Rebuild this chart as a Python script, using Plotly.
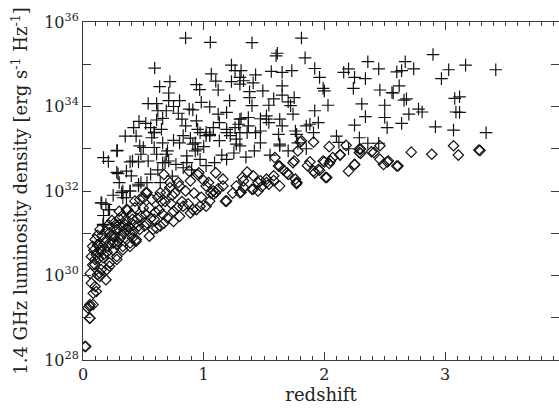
import plotly.graph_objects as go

# ---- data: redshift and log10 of 1.4 GHz luminosity density (erg s^-1 Hz^-1) ----
plus_z = [0.85, 1.055, 1.40, 1.81, 1.61, 1.60, 1.84, 2.90, 2.36, 2.67, 3.17, 3.42, 3.03, 2.97, 2.74, 2.64, 2.60,
          2.62, 2.57, 2.66, 2.68, 3.08, 3.12, 3.09, 3.12, 2.70, 2.78, 2.81, 2.64, 2.92, 3.07, 3.34,
          2.16, 2.20, 2.25, 2.34, 2.45, 2.24, 2.46, 2.56, 2.31, 2.50, 2.34, 2.50, 2.25, 2.52, 2.29, 2.36, 2.45,
          1.31, 1.43, 1.56, 1.65, 1.73, 1.92, 1.96, 1.30, 1.33, 1.30, 1.41, 1.49, 1.65, 1.38, 1.38, 1.99, 2.00,
          1.58, 1.65, 1.70, 1.75, 1.72, 1.74, 1.54, 1.40, 2.03, 1.92,
          1.31, 1.37, 1.47, 1.52, 1.54, 1.37, 1.29, 1.88, 1.95, 1.65, 1.76, 1.77, 1.62, 1.43, 1.47, 1.91, 1.78, 1.63,
          0.594, 1.063, 1.23, 1.26, 1.23, 0.72, 0.635, 0.94, 0.967, 0.71, 1.12, 0.54, 0.61, 0.71, 0.80, 1.215,
          0.464, 0.61, 0.66, 0.69, 0.79, 0.88, 0.91, 1.05, 1.12, 1.19, 1.30, 0.59, 0.65, 0.85, 0.94, 0.95, 1.02,
          1.05, 1.13, 1.19, 1.26,
          0.284, 0.21, 0.29, 0.50, 0.48, 0.41, 0.54, 0.61, 0.70, 0.71, 0.66, 0.36, 0.40, 0.48, 0.39, 0.33, 0.36,
          0.46, 0.15, 0.19, 0.21, 0.166, 0.59, 0.57, 0.66, 0.59, 0.77, 0.83, 0.86, 0.97, 0.95, 0.91, 0.83, 1.05,
          1.13, 1.22, 1.27, 1.30, 1.09, 1.19,
          0.17, 0.28, 0.28, 0.155, 0.17, 0.39, 0.46, 0.47, 0.69, 0.68, 0.80, 0.93, 0.93, 0.86, 0.97, 1.02, 1.08,
          1.19, 1.27, 1.30, 1.36, 1.47, 1.63, 1.52, 1.63, 1.85,
          0.22, 0.168, 0.32, 0.39, 0.33, 0.46, 0.53, 0.64,
          1.15, 1.25, 1.35, 1.42, 1.55, 1.70, 1.85, 2.10, 2.20, 2.12, 0.75, 0.89, 1.00, 0.56, 0.44,
          0.35, 0.42, 0.52, 0.62, 0.75, 0.82, 0.98, 1.10, 0.56, 0.62, 0.74, 0.90, 1.02, 0.30, 0.25]
plus_logL = [35.62, 35.52, 35.51, 35.62, 35.26, 35.20, 35.15, 35.23, 35.06, 35.06, 34.98, 34.87, 34.87, 34.66, 34.89, 34.85, 34.82,
             34.49, 34.32, 34.15, 34.18, 34.19, 34.23, 33.87, 33.86, 33.82, 33.94, 33.87, 33.60, 33.52, 33.44, 33.38,
             34.81, 34.89, 34.69, 34.66, 34.89, 34.43, 34.39, 34.33, 34.06, 34.03, 33.76, 33.74, 33.56, 33.50, 33.26, 33.13, 33.13,
             34.85, 34.75, 34.83, 34.81, 34.85, 34.90, 34.69, 34.69, 34.61, 34.53, 34.56, 34.37, 34.49, 34.35, 34.21, 34.43, 34.37,
             34.18, 34.27, 34.11, 34.21, 34.02, 33.82, 34.03, 34.02, 34.03, 33.90,
             33.71, 33.74, 33.71, 33.78, 33.62, 33.54, 33.58, 33.58, 33.62, 33.54, 33.42, 33.34, 33.34, 33.38, 33.42, 33.38, 33.14, 33.11,
             34.91, 34.77, 34.98, 34.85, 34.59, 34.59, 34.47, 34.52, 34.40, 34.32, 34.39, 34.07, 34.07, 34.14, 34.14, 34.14,
             33.65, 33.68, 33.72, 33.90, 33.84, 33.94, 33.92, 33.99, 33.82, 33.86, 33.70, 33.39, 33.46, 33.54, 33.66, 33.46, 33.39,
             33.34, 33.62, 33.46, 33.50,
             32.96, 32.70, 32.41, 33.03, 32.87, 32.71, 32.71, 32.87, 32.95, 32.71, 32.67, 32.47, 32.36, 32.20, 32.00, 32.00, 31.84,
             32.12, 31.72, 31.68, 31.56, 31.19, 33.38, 33.26, 33.14, 33.03, 32.63, 32.55, 32.67, 32.75, 32.99, 33.11, 33.31, 33.31,
             33.19, 33.31, 33.11, 33.38, 32.67, 32.75,
             32.79, 32.95, 32.44, 31.72, 31.42, 32.69, 32.69, 33.07, 32.87, 32.67, 33.14, 33.14, 32.95, 32.83, 33.38, 33.31, 33.50,
             33.38, 33.23, 33.07, 33.38, 33.14, 33.07, 33.70, 33.70, 33.54,
             31.56, 31.21, 31.96, 32.00, 31.84, 32.16, 32.20, 32.20,
             32.85, 32.90, 32.80, 32.95, 32.85, 32.95, 33.00, 33.30, 33.00, 33.15, 33.20, 33.25, 33.05, 33.50, 33.30,
             33.30, 33.50, 33.60, 33.90, 34.00, 33.70, 34.10, 34.60, 32.40, 32.50, 32.35, 32.50, 32.60, 32.20, 31.90]

diam_z = [2.04, 2.18, 2.29, 2.39, 2.46, 2.13, 2.05, 1.99, 2.25, 2.20, 2.29, 2.46, 2.53, 2.49, 1.88, 2.02, 1.91, 1.95,
          1.92, 1.77, 1.75, 1.81, 1.91, 1.78, 1.62, 1.59, 1.70, 1.63, 1.76, 1.32, 1.33, 1.45, 1.52, 1.54, 1.40, 1.31, 1.45,
          2.72, 2.89, 3.07, 3.11, 3.28, 2.60, 1.80, 2.30, 2.41, 2.00, 2.04, 2.07, 2.13, 2.30, 2.52, 2.61, 3.29, 1.96,
          2.01, 2.25,
          0.52, 0.50, 0.43, 0.36, 0.30, 0.26, 0.28, 0.33, 0.37, 0.41, 0.46, 0.51, 0.59, 0.65, 0.69, 0.72, 0.79, 0.88,
          0.95, 1.04, 1.10, 1.16, 1.19, 1.10, 1.05, 0.97, 0.91, 0.83, 0.75, 0.70, 0.64, 0.58, 0.12, 0.22, 0.41, 0.55,
          0.11, 0.097, 0.12, 0.069, 0.11, 0.055, 0.083, 0.041, 0.055, 0.022, 0.21, 0.28, 0.33, 0.39, 0.44, 0.166,
          0.22, 0.28, 0.15, 0.19, 0.138,
          1.77, 1.74, 1.63, 1.58, 1.69, 1.77, 1.47, 1.41, 1.33, 1.27, 1.16, 1.08, 1.02, 0.96, 0.89, 0.80, 0.72, 0.67,
          0.64, 0.53,
          1.52, 1.41, 1.30, 1.18, 1.08, 1.02, 0.94, 0.89, 0.80, 0.75, 0.67, 0.61, 0.53, 0.47, 0.44, 0.39, 0.33, 0.28,
          0.22, 0.196, 0.14, 0.10, 0.085, 0.058, 0.058, 0.017, 0.127, 0.10, 0.15, 0.25, 0.31, 0.39,
          0.14, 0.08, 0.22,
          0.06, 0.07, 0.08, 0.09, 0.10, 0.12, 0.13, 0.14, 0.16, 0.17, 0.18, 0.19, 0.20, 0.23, 0.24, 0.25, 0.26, 0.27,
          0.29, 0.30, 0.31, 0.32, 0.34, 0.35, 0.37, 0.38, 0.40, 0.42, 0.43, 0.45, 0.48, 0.50, 0.52, 0.55, 0.57, 0.60,
          0.62, 0.66, 0.68, 0.73, 0.76, 0.78, 0.82, 0.85, 0.87, 0.92, 0.98, 1.00, 1.06, 1.12, 1.24, 1.36, 1.48, 1.58,
          1.66, 1.86, 0.16, 0.21, 0.26, 0.30, 0.35, 0.42, 0.47, 0.56, 0.63, 0.74]
diam_logL = [33.05, 33.08, 32.99, 32.93, 33.07, 32.85, 32.71, 32.71, 32.63, 32.47, 32.91, 32.75, 32.71, 32.63, 32.69, 32.32, 32.47, 32.51,
             32.43, 32.17, 32.71, 33.19, 33.16, 32.95, 32.59, 32.79, 32.39, 32.12, 32.28, 32.32, 32.08, 32.20, 32.28, 32.16, 32.04, 31.97, 32.00,
             32.92, 32.87, 33.07, 32.85, 32.97, 32.59, 33.16, 32.99, 32.91, 32.69, 32.65, 32.79, 32.86, 32.89, 32.69, 32.59, 32.96, 32.49,
             32.32, 32.62,
             31.96, 31.84, 31.76, 31.56, 31.52, 31.25, 31.09, 31.17, 31.09, 31.33, 31.17, 31.17, 31.33, 31.76, 31.96, 32.08, 32.20, 32.47,
             32.39, 32.20, 32.43, 32.28, 31.76, 31.96, 31.76, 31.64, 31.56, 31.64, 31.52, 31.36, 31.17, 31.09, 30.73, 30.77, 30.89, 30.93,
             30.49, 30.26, 30.02, 29.82, 29.62, 29.27, 29.31, 29.23, 28.99, 28.32, 30.69, 30.73, 30.69, 30.77, 30.81, 30.42,
             30.22, 30.38, 30.14, 29.90, 30.06,
             32.20, 32.67, 32.59, 32.36, 32.43, 32.20, 32.24, 32.36, 32.24, 32.12, 32.12, 32.00, 32.12, 32.43, 32.24, 32.12, 32.20, 32.39,
             31.96, 31.96,
             32.20, 32.04, 31.96, 31.76, 31.92, 31.64, 31.56, 31.48, 31.40, 31.28, 31.24, 31.12, 31.24, 31.09, 30.85, 30.69, 30.61, 30.45,
             30.30, 30.14, 29.98, 29.74, 29.58, 29.31, 28.99, 28.32, 30.73, 30.38, 30.57, 30.77, 30.89, 31.01,
             31.09, 30.69, 31.01,
             30.05, 30.45, 30.25, 30.60, 30.85, 30.95, 30.40, 30.60, 30.95, 30.50, 30.80, 31.05, 30.55, 30.95, 31.30, 30.60, 30.90, 31.20,
             30.80, 31.35, 30.95, 31.40, 31.00, 31.30, 31.55, 31.15, 31.45, 31.05, 31.60, 31.35, 31.40, 31.60, 31.45, 31.60, 31.80, 31.50,
             31.85, 31.45, 31.75, 31.70, 31.95, 31.60, 31.75, 32.00, 31.70, 31.95, 31.85, 32.25, 31.95, 32.05, 31.95, 32.45, 32.10, 32.25,
             32.50, 32.60, 30.70, 31.20, 30.95, 31.20, 31.20, 31.20, 31.80, 31.35, 31.55, 31.90]

y_tick_vals = [1e28, 1e29, 1e30, 1e31, 1e32, 1e33, 1e34, 1e35, 1e36]
y_tick_text = ["10<sup>28</sup>", "", "10<sup>30</sup>", "", "10<sup>32</sup>", "",
               "10<sup>34</sup>", "", "10<sup>36</sup>"]
x_tick_vals = [0, 1, 2, 3]
x_tick_text = ["0", "1", "2", "3"]

FONT = "DejaVu Serif"
AX = "#3a3a3a"

fig = go.Figure()
fig.add_trace(go.Scatter(
    x=diam_z, y=[10 ** v for v in diam_logL], mode="markers",
    marker=dict(symbol="diamond-open", size=8, color="#111", line=dict(width=1.2, color="#111")),
    showlegend=False, hoverinfo="skip"))
fig.add_trace(go.Scatter(
    x=plus_z, y=[10 ** v for v in plus_logL], mode="markers",
    marker=dict(symbol="cross-thin-open", size=9, color="#111", line=dict(width=1.2, color="#111")),
    showlegend=False, hoverinfo="skip"))

fig.update_layout(
    width=559, height=409,
    margin=dict(l=83, r=0, t=22, b=49),
    paper_bgcolor="white", plot_bgcolor="white",
    font=dict(family=FONT, size=16, color="#222"),
)
fig.update_xaxes(
    range=[0, 3.944], showgrid=False, zeroline=False,
    showline=True, linecolor=AX, linewidth=1, mirror="allticks",
    ticks="inside", ticklen=8, tickcolor=AX, tickwidth=1,
    tickvals=x_tick_vals, ticktext=x_tick_text,
    tickfont=dict(family=FONT, size=16, color="#222"),
    minor=dict(dtick=0.1, tick0=0, ticks="inside", ticklen=4, tickcolor=AX, tickwidth=1, showgrid=False),
    title=dict(text="redshift", font=dict(family=FONT, size=18, color="#222"), standoff=3),
)
fig.update_yaxes(
    type="log", range=[28, 36], showgrid=False, zeroline=False,
    showline=True, linecolor=AX, linewidth=1, mirror="allticks",
    ticks="inside", ticklen=8, tickcolor=AX, tickwidth=1,
    tickvals=y_tick_vals, ticktext=y_tick_text,
    tickfont=dict(family=FONT, size=16, color="#222"),
    title=dict(text="1.4 GHz luminosity density [erg s<sup>-1</sup> Hz<sup>-1</sup>]",
               font=dict(family=FONT, size=18, color="#222"), standoff=11),
)

fig.write_html("out.html")
